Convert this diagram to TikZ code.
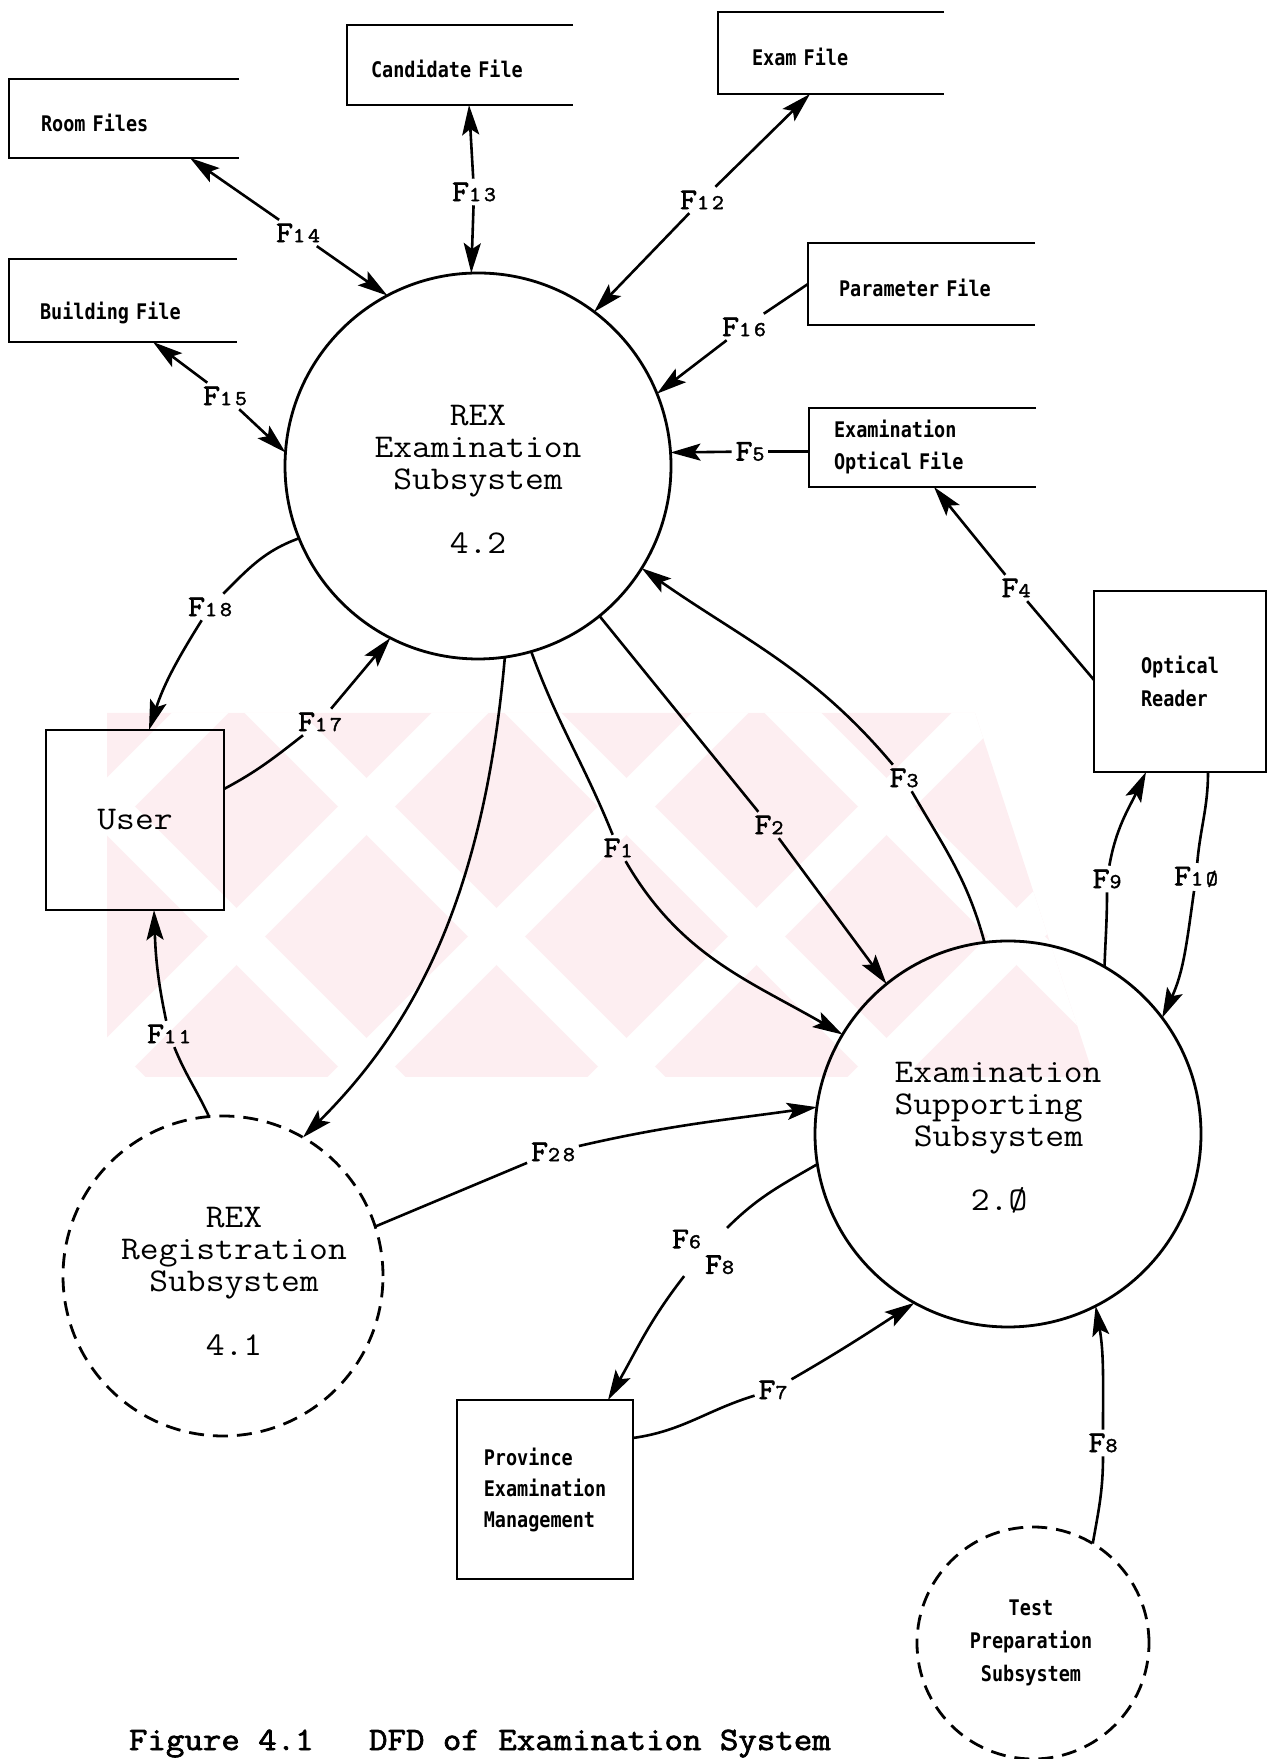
\documentclass[tikz,border=0pt]{standalone}
\usepackage{fontspec}
\usetikzlibrary{arrows.meta}
% typewriter face for process names, labels and caption
\newfontfamily\twfont[FakeStretch=1.1]{Latin Modern Mono}
\newfontfamily\twbold[FakeStretch=1.1,FakeBold=2.2]{Latin Modern Mono}
% printer face for stores and entities
\newfontfamily\dmfont[FakeStretch=0.86]{DejaVu Sans Mono}
% flow label: large F, small digits
\newcommand\flab[1]{{\fontsize{30}{30}\selectfont F}{\fontsize{21}{21}\selectfont #1}}
\definecolor{wmpink}{RGB}{253,238,241}

\begin{document}
\begin{tikzpicture}[x=1pt,y=1pt,
  >={Stealth[length=30pt,width=17pt,inset=6pt]},
  every node/.style={inner sep=0pt, outer sep=0pt},
  proc/.style={circle, draw, line width=2.8pt, minimum size=#1},
  dproc/.style={proc=#1, dash pattern=on 15pt off 9pt},
  proctext/.style={align=center, font=\twfont\fontsize{33.2}{32}\selectfont},
  store/.style={rectangle, align=left, text height=26pt, text depth=0pt,
    font=\dmfont\bfseries\fontsize{21.5}{32}\selectfont},
  boxline/.style={line width=2.5pt},
  ext/.style={rectangle, draw, line width=2.5pt},
  flow/.style={line width=2.6pt},
  flbl/.style={inner sep=4pt, font=\twbold},
]
\useasboundingbox (0,0) rectangle (1267,1759);

% ---------- faint background emblem ----------
\begin{scope}
  \clip (107,1046) -- (975,1046) -- (1094,682) -- (107,682) -- cycle;
  \fill[wmpink] (0,600) rectangle (1267,1100);
  \foreach \c in {653,913,1173,1433,1693,1953,2213}
    \draw[white, line width=40pt] (0,1759-\c) -- (1267,3026-\c);
  \foreach \c in {-960,-700,-440,-180,80,340,600,860}
    \draw[white, line width=40pt] (0,\c+1759) -- (1267,\c+492);
\end{scope}

% ---------- data stores ----------
\node[store, text width=166pt, inner xsep=32pt, minimum height=79pt] (room) at (124,1640.5) {Room Files};
\node[store, text width=178pt, inner xsep=24pt, minimum height=80pt] (cand) at (460,1694) {Candidate File};
\node[store, text width=166pt, inner xsep=31pt, minimum height=83pt, text height=38pt] (build) at (123,1458.5) {Building File};
\node[store, text width=158pt, inner xsep=34pt, minimum height=82pt] (exam) at (831,1706) {Exam File};
\node[store, text width=165pt, inner xsep=31pt, minimum height=82pt] (param) at (921.5,1475) {Parameter File};
\node[store, text width=177pt, inner xsep=25pt, minimum height=79pt, text height=, text depth=] (optf) at (922.5,1311.5) {Examination\\Optical File};
\foreach \n in {room,cand,build,exam,param,optf}
  \draw[boxline] (\n.north east) -- (\n.north west) -- (\n.south west) -- (\n.south east);

% ---------- processes ----------
\node[proc=386pt] (rexexam) at (478,1293) {};
\node[proctext] (rexexam-t) at (478,1280) {REX\\Examination\\Subsystem\\[32pt]4.2};
\node[proc=386pt] (exsup) at (1008,625) {};
\node[proctext, align=left] (exsup-t) at (998,621) {Examination\\Supporting\\\hspace*{0.58em}Subsystem\\[32pt]\hspace*{2.3em}2.Ø};
\node[dproc=320pt] (regsub) at (223,483) {};
\node[proctext] (regsub-t) at (234,478) {REX\\Registration\\Subsystem\\[32pt]4.1};
\node[dproc=232pt] (testprep) at (1033,116) {};
\node[align=center, font=\dmfont\bfseries\fontsize{21.5}{33}\selectfont] (testprep-t) at (1031,116) {Test\\Preparation\\Subsystem};

% ---------- external entities ----------
\node[ext, minimum width=178pt, minimum height=180pt, font=\twfont\fontsize{33.2}{32}\selectfont] (user) at (135,939) {User};
\node[ext, minimum width=172pt, minimum height=181pt, align=left, font=\dmfont\bfseries\fontsize{21.5}{33}\selectfont] (optread) at (1180,1077.5) {Optical\\Reader};
\node[ext, minimum width=176pt, minimum height=179pt, align=left, font=\dmfont\bfseries\fontsize{21.5}{31}\selectfont] (prov) at (545,269.5) {Province\\Examination\\Management};

% ---------- flow labels ----------
\node[flbl] (l14) at (298,1526) {\flab{1\hspace{3pt}4}};
\node[flbl] (l13) at (474,1567) {\flab{1\hspace{3pt}3}};
\node[flbl] (l12) at (702,1559) {\flab{1\hspace{3pt}2}};
\node[flbl] (l16) at (744,1432) {\flab{1\hspace{3pt}6}};
\node[flbl] (l5)  at (750,1307.5) {\flab{5}};
\node[flbl] (l15) at (225,1363) {\flab{1\hspace{3pt}5}};
\node[flbl] (l18) at (210,1152) {\flab{1\hspace{3pt}8}};
\node[flbl] (l17) at (320,1037) {\flab{1\hspace{3pt}7}};
\node[flbl] (l11) at (169,725) {\flab{1\hspace{3pt}1}};
\node[flbl] (l1)  at (618,911) {\flab{1}};
\node[flbl] (l2)  at (769,934) {\flab{2}};
\node[flbl] (l3)  at (904,981) {\flab{3}};
\node[flbl] (l4)  at (1016,1171) {\flab{4}};
\node[flbl] (l9)  at (1107,880) {\flab{9}};
\node[flbl] (l10) at (1196,882) {\flab{1\hspace{3pt}Ø}};
\node[flbl] (l28) at (553,607) {\flab{2\hspace{3pt}8}};
\node[flbl, align=left, inner sep=2pt] (l68) at (703,507) {\flab{6}\\[6pt]\hspace*{33pt}\flab{8}};
\node[flbl] (l7)  at (773,369) {\flab{7}};
\node[flbl] (l8b) at (1103,316) {\flab{8}};

% ---------- flows ----------
% F14
\draw[flow,->] (l14) -- ([xshift=66pt]room.south);
\draw[flow,->] (l14) -- (rexexam.118.7);
% F13
\draw[flow,->] (l13) -- ([xshift=9pt]cand.south);
\draw[flow,->] (l13) -- (rexexam.92.7);
% F12
\draw[flow,->] (l12) -- ([xshift=-21pt]exam.south);
\draw[flow,->] (l12) -- (rexexam.53.8);
% F16
\draw[flow] (param.west) -- (l16);
\draw[flow,->] (l16) -- (rexexam.22.2);
% F5
\draw[flow] ([yshift=-4pt]optf.west) -- (l5);
\draw[flow,->] (l5) -- (rexexam.4.3);
% F15
\draw[flow,->] (l15) -- ([xshift=30pt]build.south);
\draw[flow,->] (l15) -- (rexexam.176.8);
% F18
\draw[flow] (rexexam.202.8) to[out=200,in=45] (l18);
\draw[flow,->] (l18) to[out=238,in=72] ([xshift=14pt]user.north);
% F17
\draw[flow] ([yshift=31pt]user.east) to[out=28,in=218] (l17);
\draw[flow,->] (l17) -- (rexexam.243.7);
% F11
\draw[flow] (regsub.95.7) to[out=115,in=-68] (l11);
\draw[flow,->] (l11) to[out=102,in=-88] ([xshift=19pt]user.south);
% examination subsystem to registration subsystem
\draw[flow,->] (rexexam.278.4) .. controls +(265:250) and +(45:150) .. (regsub.60.4);
% F1
\draw[flow] (rexexam.286) to[out=-70,in=112] (l1);
\draw[flow,->] (l1) to[out=-60,in=150] (exsup.149.8);
% F2
\draw[flow] (rexexam.309.9) -- (l2);
\draw[flow,->] (l2) -- (exsup.129.2);
% F3
\draw[flow] (exsup.97.2) to[out=105,in=-60] (l3);
\draw[flow,->] (l3) to[out=130,in=-35] (rexexam.328.3);
% F4
\draw[flow] ([yshift=1.5pt]optread.west) -- (l4);
\draw[flow,->] (l4) -- ([xshift=11.5pt]optf.south);
% F9
\draw[flow] (exsup.60.7) to[out=88,in=-90] (l9);
\draw[flow,->] (l9) to[out=80,in=-115] ([xshift=-34pt]optread.south);
% F10
\draw[flow] ([xshift=28pt]optread.south) to[out=-90,in=85] (l10);
\draw[flow,->] (l10) to[out=-98,in=65] (exsup.37.7);
% F28
\draw[flow] (regsub.18.9) -- (l28);
\draw[flow,->] (l28) to[out=13,in=188] (exsup.172.3);
% F6 / F8
\draw[flow] (exsup.189.6) to[out=210,in=45] (l68);
\draw[flow,->] (l68) to[out=232,in=60] ([xshift=63pt]prov.north);
% F7
\draw[flow] ([yshift=51.5pt]prov.east) to[out=8,in=197] (l7);
\draw[flow,->] (l7) to[out=30,in=213] (exsup.241.2);
% F8 from test preparation
\draw[flow] (testprep.59.7) to[out=80,in=-90] (l8b);
\draw[flow,->] (l8b) to[out=90,in=-80] (exsup.297.1);

% ---------- caption ----------
\node[anchor=base west, font=\twbold\fontsize{32.6}{32}\selectfont] (caption) at (129,9)
  {Figure 4.1~~~DFD of Examination System};
\end{tikzpicture}
\end{document}
